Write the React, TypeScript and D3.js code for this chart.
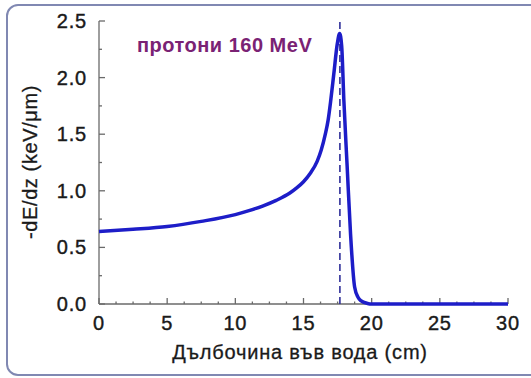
import React from "react";
import * as d3 from "d3";

const depth = [0, 2.5, 5, 7.5, 10, 11, 12, 13, 14, 14.5, 15, 15.5, 16, 16.3, 16.6, 16.8, 17, 17.23, 17.48, 17.65, 17.8, 17.96, 18.2, 18.45, 18.75, 19.0, 19.2, 19.7, 20, 25, 30];
const dEdz = [0.64, 0.66, 0.685, 0.73, 0.79, 0.825, 0.865, 0.915, 0.98, 1.025, 1.08, 1.155, 1.26, 1.36, 1.5, 1.62, 1.8, 2.04, 2.3, 2.39, 2.28, 1.8, 1.22, 0.62, 0.15, 0.06, 0.03, 0.005, 0, 0, 0];
const xTicks = [0, 5, 10, 15, 20, 25, 30];
const yTicks = [0, 0.5, 1.0, 1.5, 2.0, 2.5];
const peakDepth = 17.67;
const title = "протони 160 MeV";
const xLabel = "Дълбочина във вода (cm)";
const yLabel = "-dE/dz (keV/μm)";

export default function App() {
  const W = 531, H = 378;
  const x = d3.scaleLinear().domain([0, 30]).range([99, 508]);
  const y = d3.scaleLinear().domain([0, 2.5]).range([304, 21]);
  const pts = depth.map((d, i) => [d, dEdz[i]] as [number, number]);
  const line = d3.line<[number, number]>().x(d => x(d[0])).y(d => y(d[1])).curve(d3.curveMonotoneX);
  const xMinor = d3.range(0, 30.001, 1.25).filter(v => Math.abs(v % 5) > 1e-6);
  const yMinor = d3.range(0, 2.5001, 0.25).filter(v => Math.abs((v * 2) % 1) > 1e-6);
  const font = "'Liberation Sans', Arial, sans-serif";
  const axisColor = "#6a6a6a";
  return (
    <svg width={W} height={H} style={{ position: "absolute", left: 0, top: 0 }}>
      <rect x={0} y={0} width={W} height={H} fill="#ffffff" />
      <rect x={7} y={5} width={560} height={370} rx={11} fill="#ffffff" stroke="#8088b2" strokeWidth={2} />
      {/* axes */}
      <line x1={x(0)} x2={x(30)} y1={y(0)} y2={y(0)} stroke={axisColor} strokeWidth={1.3} />
      <line x1={x(0)} x2={x(0)} y1={y(0)} y2={y(2.5)} stroke={axisColor} strokeWidth={1.3} />
      {xTicks.map(t => (
        <g key={"xt" + t}>
          <line x1={x(t)} x2={x(t)} y1={y(0)} y2={y(0) - 6} stroke={axisColor} strokeWidth={1.3} />
          <text x={x(t)} y={330} textAnchor="middle" fontFamily={font} fontSize={20} letterSpacing={0.8} fill="#1a1a1a" stroke="#1a1a1a" strokeWidth={0.4}>{t}</text>
        </g>
      ))}
      {xMinor.map(t => (
        <line key={"xm" + t} x1={x(t)} x2={x(t)} y1={y(0)} y2={y(0) - 2.5} stroke={axisColor} strokeWidth={1.3} />
      ))}
      {yTicks.map(t => (
        <g key={"yt" + t}>
          <line x1={x(0)} x2={x(0) + 6} y1={y(t)} y2={y(t)} stroke={axisColor} strokeWidth={1.3} />
          <text x={87} y={y(t) + 7} textAnchor="end" fontFamily={font} fontSize={20} letterSpacing={0.8} fill="#1a1a1a" stroke="#1a1a1a" strokeWidth={0.4}>{t.toFixed(1)}</text>
        </g>
      ))}
      {yMinor.map(t => (
        <line key={"ym" + t} x1={x(0)} x2={x(0) + 3} y1={y(t)} y2={y(t)} stroke={axisColor} strokeWidth={1.3} />
      ))}
      {/* dashed peak marker */}
      <line x1={x(peakDepth)} x2={x(peakDepth)} y1={y(0)} y2={y(2.5)} stroke="#30309a" strokeWidth={1.6} strokeDasharray="7,4" />
      {/* curve */}
      <path d={line(pts) || ""} fill="none" stroke="#1d1dc8" strokeWidth={3.5} strokeLinejoin="round" />
      <text x={137} y={52} fontFamily={font} fontSize={20} fontWeight="bold" letterSpacing={0.5} fill="#7a2274">{title}</text>
      <text x={300} y={359} textAnchor="middle" fontFamily={font} fontSize={20} letterSpacing={0.8} fill="#1a1a1a" stroke="#1a1a1a" strokeWidth={0.3}>{xLabel}</text>
      <text transform={`translate(37,162) rotate(-90)`} textAnchor="middle" fontFamily={font} fontSize={20} letterSpacing={0.6} fill="#1a1a1a" stroke="#1a1a1a" strokeWidth={0.3}>{yLabel}</text>
    </svg>
  );
}
